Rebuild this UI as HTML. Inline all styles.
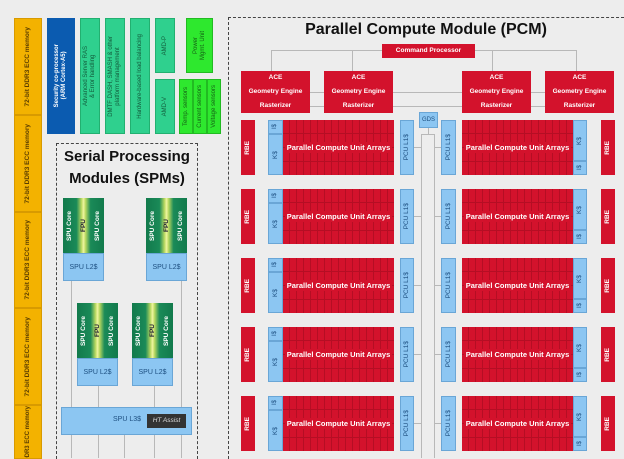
<!DOCTYPE html>
<html><head><meta charset="utf-8"><style>
*{margin:0;padding:0;box-sizing:border-box}
html,body{width:624px;height:459px;overflow:hidden}
body{background:#ededed;font-family:"Liberation Sans",sans-serif;position:relative}
div{position:absolute}
.v{display:flex;align-items:center;justify-content:center;text-align:center}
.v span{writing-mode:vertical-rl;transform:rotate(180deg);line-height:1.15}
.mem{left:14px;width:28px;background:#f3b200;border:1px solid #d89a00;font-size:6.5px;font-weight:bold;color:#5a3d00;white-space:nowrap}
.g{background:#2fd08e;border:1px solid #22b070;font-size:6px;color:#135b3c;top:18px}
.gb{background:#2ee82e;border:1px solid #22bb22;font-size:6px;color:#155f15}
.red{background:#d3122c;color:#fff;font-weight:bold;font-size:6.5px}
.blue{background:#8cc6f2;border:1px solid #6aa6d6;color:#1d4f80;font-size:6.5px}
.arr{height:55px;background-color:#d3122c;background-image:repeating-linear-gradient(90deg,transparent 0 6px,#b50e24 6px 7px),repeating-linear-gradient(0deg,transparent 0 13px,#b50e24 13px 14px);color:#fff;font-weight:bold;font-size:7.5px;display:flex;align-items:center;justify-content:center}
.arr span{background:#d3122c;padding:1px 2px}
.ln{background:#b8b8b8}
.spu{width:41px}
.core{height:55px;background:linear-gradient(90deg,#127a4c 0,#1a8a58 33%,#b8d860 45%,#f0f5a0 50%,#b8d860 55%,#1a8a58 67%,#127a4c 100%);display:flex;justify-content:space-around;align-items:center;font-size:6.5px;font-weight:bold;color:#fff}
.core span{writing-mode:vertical-rl;transform:rotate(180deg)}
.core span.f{color:#223}
.l2{height:28px;background:#8cc6f2;border:1px solid #6aa6d6;font-size:7px;color:#1d4f80;display:flex;align-items:center;justify-content:center}
</style></head><body>
<div class="mem v" style="top:18px;height:97px"><span>72-bit DDR3 ECC memory</span></div>
<div class="mem v" style="top:115px;height:97px"><span>72-bit DDR3 ECC memory</span></div>
<div class="mem v" style="top:212px;height:96px"><span>72-bit DDR3 ECC memory</span></div>
<div class="mem v" style="top:308px;height:97px"><span>72-bit DDR3 ECC memory</span></div>
<div class="mem v" style="top:405px;height:54px;align-items:flex-start;overflow:hidden;font-size:6px"><span style="padding-top:1px">DDR3 ECC memory</span></div>
<div class="v" style="left:47px;top:18px;width:28px;height:116px;background:#0b5bb0;color:#fff;font-size:6px;font-weight:bold"><span>Security co-processor<br>(ARM Cortex-A5)</span></div>
<div class="g v" style="left:80px;width:20px;height:116px"><span>Advanced Server RAS<br>&amp; Error handling</span></div>
<div class="g v" style="left:105px;width:20px;height:116px"><span>DMTF DASH, SMASH &amp; other<br>platform management</span></div>
<div class="g v" style="left:130px;width:20px;height:116px"><span>Hardware-based load balancing</span></div>
<div class="g v" style="left:155px;width:20px;height:55px"><span>AMD-P</span></div>
<div class="g v" style="left:155px;top:79px;width:20px;height:55px"><span>AMD-V</span></div>
<div class="gb v" style="left:186px;top:18px;width:27px;height:55px"><span>Power<br>Mgmt. Unit</span></div>
<div class="gb v" style="left:179px;top:79px;width:14px;height:55px"><span>Temp. sensors</span></div>
<div class="gb v" style="left:193px;top:79px;width:14px;height:55px"><span>Current sensors</span></div>
<div class="gb v" style="left:207px;top:79px;width:14px;height:55px"><span>Voltage sensors</span></div>
<div style="left:56px;top:143px;width:142px;height:316px;border:1.5px dashed #444;border-bottom:none"></div>
<div style="left:56px;top:146px;width:142px;text-align:center;font-size:15px;font-weight:bold;color:#111;line-height:22px">Serial Processing<br>Modules (SPMs)</div>
<div class="ln" style="left:71px;top:280px;width:1px;height:178px"></div>
<div class="ln" style="left:98px;top:386px;width:1px;height:72px"></div>
<div class="ln" style="left:124px;top:420px;width:1px;height:38px"></div>
<div class="ln" style="left:154px;top:386px;width:1px;height:72px"></div>
<div class="ln" style="left:181px;top:280px;width:1px;height:178px"></div>
<div class="spu" style="left:63px;top:198px"><div class="core" style="position:relative"><span>SPU Core</span><span class="f">FPU</span><span>SPU Core</span></div><div class="l2" style="position:relative">SPU L2$</div></div>
<div class="spu" style="left:146px;top:198px"><div class="core" style="position:relative"><span>SPU Core</span><span class="f">FPU</span><span>SPU Core</span></div><div class="l2" style="position:relative">SPU L2$</div></div>
<div class="spu" style="left:77px;top:303px"><div class="core" style="position:relative"><span>SPU Core</span><span class="f">FPU</span><span>SPU Core</span></div><div class="l2" style="position:relative">SPU L2$</div></div>
<div class="spu" style="left:132px;top:303px"><div class="core" style="position:relative"><span>SPU Core</span><span class="f">FPU</span><span>SPU Core</span></div><div class="l2" style="position:relative">SPU L2$</div></div>
<div style="left:61px;top:407px;width:131px;height:28px;background:#8cc6f2;border:1px solid #6aa6d6"></div>
<div style="left:113px;top:416px;font-size:7px;color:#1d4f80">SPU L3$</div>
<div style="left:147px;top:414px;width:39px;height:14px;background:#333;color:#ddd;font-size:6.5px;font-style:italic;text-align:center;line-height:14px">HT Assist</div>
<div style="left:228px;top:17px;width:396px;height:442px;border:1.5px dashed #444;border-bottom:none;border-right:none"></div>
<div style="left:228px;top:21px;width:396px;text-align:center;font-size:16px;font-weight:bold;color:#111">Parallel Compute Module (PCM)</div>
<div class="ln" style="left:271px;top:50px;width:306px;height:1px"></div>
<div class="ln" style="left:271px;top:50px;width:1px;height:21px"></div>
<div class="ln" style="left:352px;top:50px;width:1px;height:21px"></div>
<div class="ln" style="left:492px;top:50px;width:1px;height:21px"></div>
<div class="ln" style="left:576px;top:50px;width:1px;height:21px"></div>
<div class="red" style="left:382px;top:44px;width:93px;height:14px;text-align:center;line-height:14px">Command Processor</div>
<div class="ln" style="left:300px;top:92px;width:260px;height:1px"></div>
<div class="ln" style="left:300px;top:106px;width:260px;height:1px"></div>
<div class="red" style="left:241px;top:71px;width:69px;height:42px;text-align:center;line-height:14px">ACE<br>Geometry Engine<br>Rasterizer</div>
<div class="red" style="left:324px;top:71px;width:69px;height:42px;text-align:center;line-height:14px">ACE<br>Geometry Engine<br>Rasterizer</div>
<div class="red" style="left:462px;top:71px;width:69px;height:42px;text-align:center;line-height:14px">ACE<br>Geometry Engine<br>Rasterizer</div>
<div class="red" style="left:545px;top:71px;width:69px;height:42px;text-align:center;line-height:14px">ACE<br>Geometry Engine<br>Rasterizer</div>
<div class="blue" style="left:419px;top:112px;width:19px;height:16px;text-align:center;line-height:14px;font-size:6px">GDS</div>
<div class="ln" style="left:421px;top:134px;width:13px;height:1px"></div>
<div class="ln" style="left:421px;top:134px;width:1px;height:324px"></div>
<div class="ln" style="left:434px;top:134px;width:1px;height:324px"></div>
<div class="ln" style="left:428px;top:128px;width:1px;height:6px"></div>
<div id="rows"></div>
<script>
var h='';
[120,189,258,327,396].forEach(function(t){
h+='<div class="red v" style="left:241px;top:'+t+'px;width:14px;height:55px"><span>RBE</span></div>';
h+='<div class="blue v" style="left:268px;top:'+t+'px;width:15px;height:14px;font-size:6px"><span>I$</span></div>';
h+='<div class="blue v" style="left:268px;top:'+(t+14)+'px;width:15px;height:41px"><span>K$</span></div>';
h+='<div class="arr" style="left:283px;top:'+t+'px;width:111px"><span>Parallel Compute Unit Arrays</span></div>';
h+='<div class="blue v" style="left:400px;top:'+t+'px;width:14px;height:55px"><span>PCU L1$</span></div>';
h+='<div class="ln" style="left:414px;top:'+(t+27)+'px;width:7px;height:1px"></div>';
h+='<div class="ln" style="left:434px;top:'+(t+27)+'px;width:7px;height:1px"></div>';
h+='<div class="blue v" style="left:441px;top:'+t+'px;width:15px;height:55px"><span>PCU L1$</span></div>';
h+='<div class="arr" style="left:462px;top:'+t+'px;width:111px"><span>Parallel Compute Unit Arrays</span></div>';
h+='<div class="blue v" style="left:573px;top:'+t+'px;width:14px;height:41px"><span>K$</span></div>';
h+='<div class="blue v" style="left:573px;top:'+(t+41)+'px;width:14px;height:14px;font-size:6px"><span>I$</span></div>';
h+='<div class="red v" style="left:601px;top:'+t+'px;width:14px;height:55px"><span>RBE</span></div>';
});
document.getElementById('rows').innerHTML=h;
</script>
</body></html>
